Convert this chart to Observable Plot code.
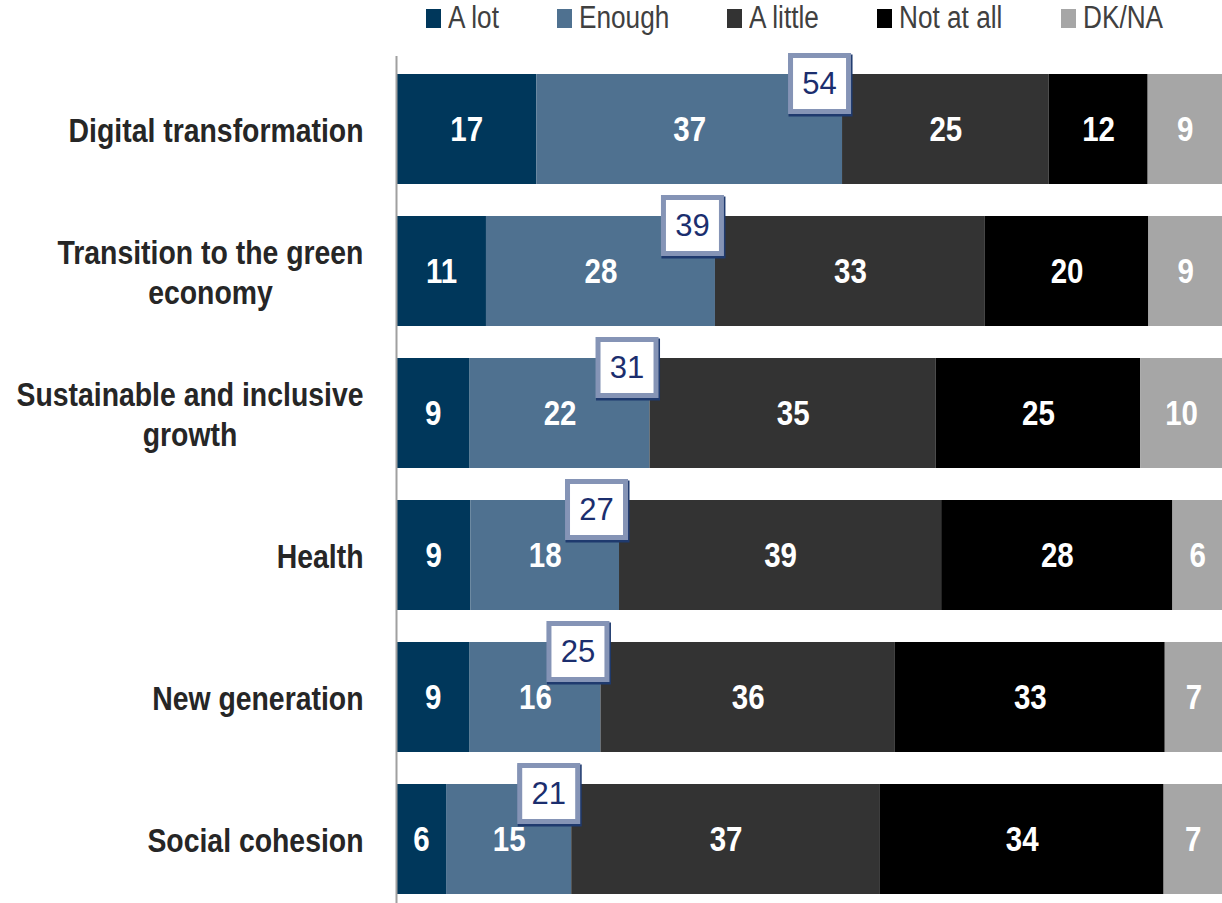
<!DOCTYPE html>
<html>
<head>
<meta charset="utf-8">
<script src="https://cdn.jsdelivr.net/npm/d3@7"></script>
<script src="https://cdn.jsdelivr.net/npm/@observablehq/plot@0.6"></script>
<style>
  html, body { margin: 0; padding: 0; background: #fff; }
  body { width: 1222px; height: 903px; overflow: hidden; font-family: "Liberation Sans", Arial, sans-serif; }
  #legend { height: 46px; display: flex; align-items: flex-start; padding-left: 426px; box-sizing: border-box; }
  .item { display: flex; align-items: center; margin-right: 58px; height: 36px; flex: none; }
  .sw { width: 15px; height: 19px; margin-right: 7px; flex: none; }
  .lab { font-size: 31px; color: #404040; line-height: 36px; white-space: nowrap; transform: scaleX(0.845); transform-origin: 0 50%; flex: none; }
</style>
</head>
<body>
<div id="legend"></div>
<div id="chart"></div>
<script>
const categories = ["Digital transformation", "Transition to the green economy", "Sustainable and inclusive growth", "Health", "New generation", "Social cohesion"];
const tickLabels = ["Digital transformation", "Transition to the green\neconomy", "Sustainable and inclusive\ngrowth", "Health", "New generation", "Social cohesion"];
const seriesNames = ["A lot", "Enough", "A little", "Not at all", "DK/NA"];
const aLot     = [17, 11, 9, 9, 9, 6];
const enough   = [37, 28, 22, 18, 16, 15];
const aLittle  = [25, 33, 35, 39, 36, 37];
const notAtAll = [12, 20, 25, 28, 33, 34];
const dkna     = [9, 9, 10, 6, 7, 7];
const topTwo   = [54, 39, 31, 27, 25, 21];
const colors = ["#00375B", "#4F7190", "#333333", "#000000", "#A6A6A6"];

const seriesValues = [aLot, enough, aLittle, notAtAll, dkna];
const data = [];
categories.forEach((c, i) => {
  seriesNames.forEach((s, j) => data.push({cat: c, series: s, value: seriesValues[j][i]}));
});
const boxes = categories.map((c, i) => {
  const total = seriesValues.reduce((a, arr) => a + arr[i], 0);
  return {cat: c, x: (aLot[i] + enough[i]) / total, label: topTwo[i]};
});
const labelOf = new Map(categories.map((c, i) => [c, tickLabels[i]]));

// legend
const lg = document.getElementById("legend");
seriesNames.forEach((s, j) => {
  const it = document.createElement("div"); it.className = "item";
  const sw = document.createElement("div"); sw.className = "sw"; sw.style.background = colors[j];
  const lb = document.createElement("div"); lb.className = "lab"; lb.textContent = s;
  it.appendChild(sw); it.appendChild(lb); lg.appendChild(it);
});
lg.querySelectorAll(".lab").forEach(lb => { lb.style.width = (lb.getBoundingClientRect().width) + "px"; });

const boxW = 58, boxH = 56;
const rectSymbol = (w, h) => ({draw(ctx) { ctx.rect(-w/2, -h/2, w, h); }});

const chart = Plot.plot({
  width: 1222,
  height: 857,
  marginLeft: 396,
  marginRight: 0,
  marginTop: 10,
  marginBottom: 0,
  style: {fontFamily: "Liberation Sans, Arial, sans-serif", background: "#fff"},
  x: {domain: [0, 1], axis: null},
  y: {domain: categories, range: [28, 848], paddingInner: 0.2254, paddingOuter: 0, axis: null},
  color: {domain: seriesNames, range: colors},
  marks: [
    Plot.barX(data, Plot.stackX({x: "value", y: "cat", fill: "series", z: "series", offset: "normalize"})),
    Plot.text(data, Plot.stackX({x: "value", y: "cat", z: "series", offset: "normalize", text: d => String(d.value),
      fill: "white", fontWeight: "bold", fontSize: 36, className: "narrow"})),
    Plot.ruleX([0], {stroke: "#A0A0A0", strokeWidth: 2}),
    Plot.text(categories, {y: d => d, text: d => labelOf.get(d), frameAnchor: "left", textAnchor: "end", dx: -33,
      fontSize: 34, fontWeight: "bold", fill: "#262626", lineHeight: 1.18, lineAnchor: "middle", className: "catlab"}),
    Plot.dot(boxes, {x: "x", y: "cat", dx: -22, dy: -44, symbol: rectSymbol(boxW + 6, boxH + 6), r: 1, fill: "#1F3A6E", stroke: "none"}),
    Plot.dot(boxes, {x: "x", y: "cat", dx: -23, dy: -46, symbol: rectSymbol(boxW, boxH), r: 1, fill: "white", stroke: "#8594B6", strokeWidth: 5}),
    Plot.text(boxes, {x: "x", y: "cat", dx: -23, dy: -45, text: d => String(d.label), fill: "#1B2E6E", fontSize: 31})
  ]
});
document.getElementById("chart").appendChild(chart);

function narrow(t, k) {
  if (!t.getAttribute("transform") && t.hasAttribute("x")) {
    const x = t.getAttribute("x") || 0, y = t.getAttribute("y") || 0;
    t.removeAttribute("x"); t.removeAttribute("y");
    t.setAttribute("transform", `translate(${x},${y})`);
  }
  t.setAttribute("transform", (t.getAttribute("transform") || "") + ` scale(${k},1)`);
}
chart.querySelectorAll(".narrow text").forEach(t => narrow(t, 0.82));
chart.querySelectorAll(".catlab text").forEach(t => {
  const tspans = t.querySelectorAll("tspan");
  if (tspans.length >= 2) {
    const w = t.getBBox().width;
    t.setAttribute("text-anchor", "middle");
    tspans.forEach(ts => ts.setAttribute("x", -w / 2));
  }
  narrow(t, 0.835);
});
</script>
</body>
</html>
